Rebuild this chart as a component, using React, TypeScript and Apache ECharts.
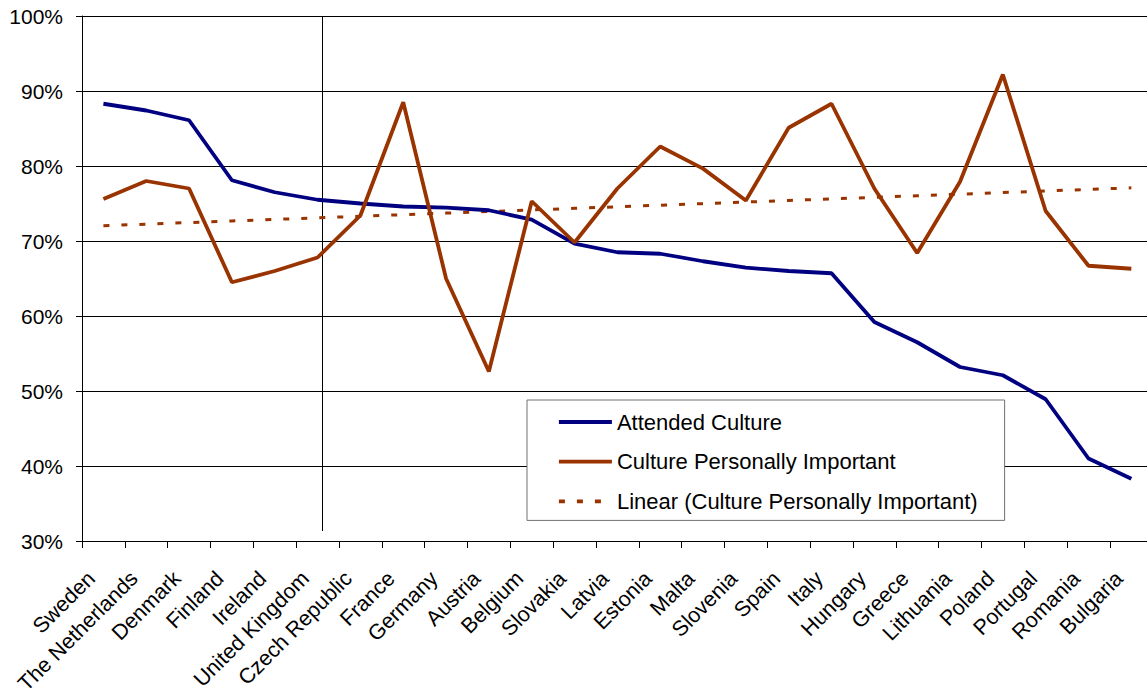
import React, { useEffect, useRef } from "react";
import * as echarts from "echarts";

const categories = [
  "Sweden", "The Netherlands", "Denmark", "Finland", "Ireland", "United Kingdom",
  "Czech Republic", "France", "Germany", "Austria", "Belgium", "Slovakia", "Latvia",
  "Estonia", "Malta", "Slovenia", "Spain", "Italy", "Hungary", "Greece", "Lithuania",
  "Poland", "Portugal", "Romania", "Bulgaria",
];

const attendedCulture = [
  88.3, 87.4, 86.1, 78.1, 76.5, 75.5, 75.0, 74.6, 74.45, 74.1, 72.85, 69.65, 68.5,
  68.3, 67.3, 66.45, 66.0, 65.7, 59.2, 56.5, 53.2, 52.1, 48.9, 41.0, 38.3,
];

const culturePersonallyImportant = [
  75.6, 78.0, 77.0, 64.5, 66.0, 67.8, 73.4, 88.5, 65.0, 52.6, 75.3, 69.8, 77.0,
  82.6, 79.65, 75.4, 85.1, 88.3, 77.0, 68.4, 77.9, 92.2, 74.0, 66.7, 66.3,
];

const yTicks = { min: 30, max: 100, interval: 10 };

const seriesNames = [
  "Attended Culture",
  "Culture Personally Important",
  "Linear (Culture Personally Important)",
];

// least-squares linear trend (as Excel's "Linear" trendline)
function linearTrend(values: number[]): number[] {
  const n = values.length;
  const xs = values.map((_, i) => i);
  const mx = xs.reduce((a, b) => a + b, 0) / n;
  const my = values.reduce((a, b) => a + b, 0) / n;
  let sxy = 0;
  let sxx = 0;
  for (let i = 0; i < n; i++) {
    sxy += (xs[i] - mx) * (values[i] - my);
    sxx += (xs[i] - mx) * (xs[i] - mx);
  }
  const slope = sxy / sxx;
  return xs.map((x) => +(my + slope * (x - mx)).toFixed(3));
}

const FONT = "'Liberation Sans', Arial, sans-serif";

export default function App() {
  const ref = useRef<HTMLDivElement>(null);

  useEffect(() => {
    if (!ref.current) return;
    const chart = echarts.init(ref.current, undefined, { renderer: "svg" });
    const trend = linearTrend(culturePersonallyImportant);
    const pairs = (vals: number[]) => vals.map((v, i) => [i, v]);
    const labelValues = categories.map((_, i) => i);
    const tickValues = categories.map((_, i) => i - 0.5);
    // the plot area is cut at the right edge of the picture (partially visible last slot)
    const xMax = 24.366;

    chart.setOption({
      animation: false,
      backgroundColor: "#ffffff",
      textStyle: { fontFamily: FONT },
      grid: {
        left: 82,
        top: 16,
        right: 0,
        bottom: 152,
        containLabel: false,
        outerBoundsMode: "none",
      },
      legend: {
        orient: "vertical",
        left: 527,
        top: 400,
        padding: [11, 27, 8, 30],
        itemGap: 17.7,
        itemWidth: 53,
        itemHeight: 2,
        backgroundColor: "#ffffff",
        borderColor: "#707070",
        borderWidth: 1,
        borderRadius: 0,
        data: seriesNames,
        itemStyle: { color: "rgba(0,0,0,0)", borderWidth: 0, opacity: 0 },
        lineStyle: { width: 3.8 },
        textStyle: { fontFamily: FONT, fontSize: 22, color: "#000", lineHeight: 22 },
      },
      xAxis: {
        type: "value",
        min: -0.5,
        max: xMax,
        axisLine: { show: true, onZero: false, lineStyle: { color: "#000", width: 1 } },
        axisTick: {
          show: true,
          length: 7,
          customValues: tickValues,
          lineStyle: { color: "#000" },
        },
        splitLine: { show: false },
        axisLabel: {
          customValues: labelValues,
          formatter: (v: number) => categories[Math.round(v)] ?? "",
          rotate: 45,
          margin: 22,
          padding: [0, 17, 0, 0],
          fontFamily: FONT,
          fontSize: 21.5,
          color: "#000",
          showMinLabel: true,
          showMaxLabel: true,
          hideOverlap: false,
        },
      },
      yAxis: {
        type: "value",
        min: yTicks.min,
        max: yTicks.max,
        interval: yTicks.interval,
        axisLine: { show: true, onZero: false, lineStyle: { color: "#000", width: 1 } },
        axisTick: { show: true, length: 6, lineStyle: { color: "#000" } },
        splitLine: { show: true, lineStyle: { color: "#000", width: 1 } },
        axisLabel: {
          formatter: "{value}%",
          margin: 19,
          fontFamily: FONT,
          fontSize: 21,
          color: "#000",
        },
      },
      graphic: [
        {
          type: "line",
          shape: { x1: 322.5, y1: 16, x2: 322.5, y2: 531 },
          style: { stroke: "#000", lineWidth: 1 },
          z: 1,
        },
      ],
      series: [
        {
          name: seriesNames[0],
          type: "line",
          data: pairs(attendedCulture),
          symbol: "none",
          lineStyle: { color: "#000080", width: 3.8 },
          itemStyle: { color: "#000080" },
          z: 3,
        },
        {
          name: seriesNames[1],
          type: "line",
          data: pairs(culturePersonallyImportant),
          symbol: "none",
          lineStyle: { color: "#993300", width: 3.8 },
          itemStyle: { color: "#993300" },
          z: 3,
        },
        {
          name: seriesNames[2],
          type: "line",
          data: pairs(trend),
          symbol: "none",
          lineStyle: { color: "#993300", width: 3, type: [6, 12] },
          itemStyle: { color: "#993300" },
          z: 2,
        },
      ],
    });

    return () => chart.dispose();
  }, []);

  return (
    <div
      ref={ref}
      style={{ position: "fixed", left: 0, top: 0, width: 1147, height: 693 }}
    />
  );
}
